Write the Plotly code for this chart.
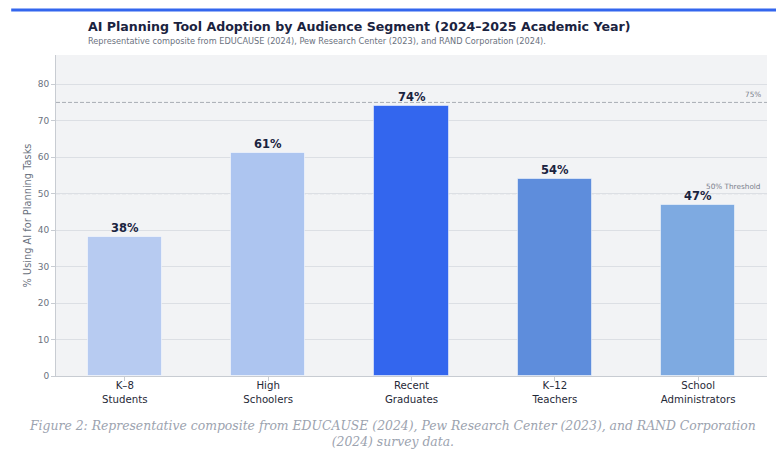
import plotly.graph_objects as go

segments = ["K–8<br>Students", "High<br>Schoolers", "Recent<br>Graduates", "K–12<br>Teachers", "School<br>Administrators"]
adoption = [38, 61, 74, 54, 47]
bar_colors = ["#b7cbf1", "#adc5f0", "#3366ee", "#5e8ddc", "#7eaae1"]
ref_values = [75, 50]
ref_labels = ["75%", "50% Threshold"]
y_ticks = [0, 10, 20, 30, 40, 50, 60, 70, 80]

x_pos = list(range(len(segments)))

fig = go.Figure()
fig.add_trace(go.Bar(
    x=x_pos, y=adoption, width=0.52,
    marker=dict(color=bar_colors, line=dict(color="rgba(255,255,255,0.5)", width=1)),
    hoverinfo="skip", showlegend=False,
))

# value labels on top of bars
for xp, v in zip(x_pos, adoption):
    fig.add_annotation(x=xp, y=v, text=f"<b>{v}%</b>", showarrow=False, yanchor="bottom", yshift=0,
                       font=dict(family="DejaVu Sans", size=11.5, color="#1a2340"))

# dashed reference lines
for v, lab in zip(ref_values, ref_labels):
    fig.add_shape(type="line", xref="paper", x0=0, x1=1, y0=v, y1=v, layer="below",
                  line=dict(color="#a9adb5", width=1, dash="4px,2px"))
    fig.add_annotation(xref="paper", x=0.995, y=v, text=lab, showarrow=False, xanchor="right", yanchor="bottom",
                       yshift=1, font=dict(family="DejaVu Sans", size=7.3, color="#7a808c"))

# top accent line
fig.add_shape(type="line", xref="paper", yref="paper", x0=-0.063, x1=1.03, y0=1.140, y1=1.140,
              line=dict(color="#3366ee", width=3))

fig.add_annotation(xref="paper", yref="paper", x=0.042, y=1.090, text="<b>AI Planning Tool Adoption by Audience Segment (2024–2025 Academic Year)</b>",
                   showarrow=False, xanchor="left", yanchor="middle", font=dict(family="DejaVu Sans", size=12.6, color="#1a2340"))
fig.add_annotation(xref="paper", yref="paper", x=0.042, y=1.044, text="Representative composite from EDUCAUSE (2024), Pew Research Center (2023), and RAND Corporation (2024).",
                   showarrow=False, xanchor="left", yanchor="middle", font=dict(family="DejaVu Sans", size=8.2, color="#6b7280"))

fig.add_annotation(xref="paper", yref="paper", x=0.4726, y=-0.124,
                   text="<i>Figure 2: Representative composite from EDUCAUSE (2024), Pew Research Center (2023), and RAND Corporation<br>(2024) survey data.</i>",
                   showarrow=False, xanchor="center", yanchor="top",
                   font=dict(family="DejaVu Serif", size=12.4, color="#9ca3af"))

fig.update_layout(
    width=776, height=448,
    margin=dict(l=48, r=17, t=47, b=80, autoexpand=False),
    paper_bgcolor="white", plot_bgcolor="#f2f3f5",
    bargap=0,
    xaxis=dict(range=[-0.48, 4.48], tickvals=x_pos, ticktext=segments, showgrid=False,
               showline=True, linecolor="#c8ccd2", ticks="outside", ticklen=4, tickcolor="#c8ccd2",
               ticklabelstandoff=-4,
               tickfont=dict(family="DejaVu Sans", size=10.2, color="#1f2937"), zeroline=False, automargin=False),
    yaxis=dict(range=[0, 88], tickvals=y_ticks, showgrid=True, gridcolor="#dcdfe4", gridwidth=1,
               showline=True, linecolor="#c8ccd2", ticks="outside", ticklen=4, tickcolor="#c8ccd2",
               tickfont=dict(family="DejaVu Sans", size=9, color="#6b7280"), zeroline=False, automargin=False,
               title=dict(text="% Using AI for Planning Tasks", font=dict(family="DejaVu Sans", size=9.8, color="#6b7280"), standoff=4)),
)

fig.write_html("out.html")
